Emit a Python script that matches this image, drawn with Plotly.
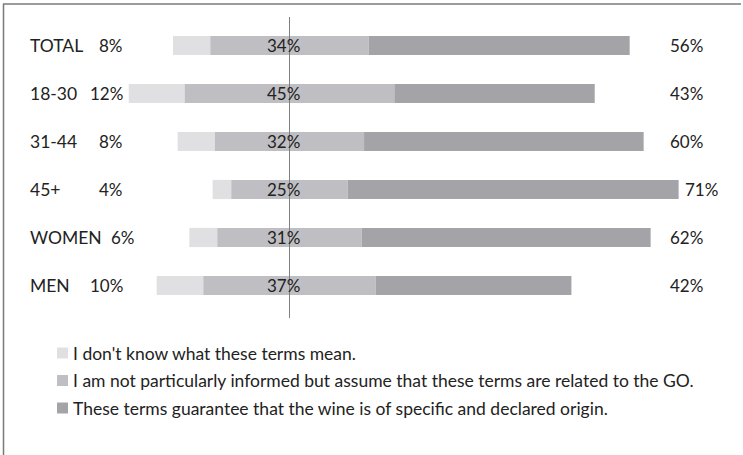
import plotly.graph_objects as go

# Survey answers by group (percent of respondents)
groups = ["TOTAL", "18-30", "31-44", "45+", "WOMEN", "MEN"]
dont_know = [8, 12, 8, 4, 6, 10]
assume_go = [34, 45, 32, 25, 31, 37]
guarantee = [56, 43, 60, 71, 62, 42]

legend_labels = [
    "I don't know what these terms mean.",
    "I am not particularly informed but assume that these terms are related to the GO.",
    "These terms guarantee that the wine is of specific and declared origin.",
]
colors = ["#e0e0e2", "#bfbfc3", "#a4a4a8"]

FONT = "Lato"
TXT = "#222222"

W, H = 743, 455
# pixel geometry of the diverging axis
CX, PX_PER = 289.5, 4.66
ROW0, ROW_STEP = 45.5, 48.0


def xd(px):
    return (px - CX) / PX_PER


def yd(py):
    return (py - ROW0) / ROW_STEP


rows = list(range(len(groups)))
half = [v / 2 for v in assume_go]

fig = go.Figure()
# light segment: left of the centred middle segment
fig.add_trace(go.Bar(
    y=rows, x=dont_know, base=[-h - d for h, d in zip(half, dont_know)],
    orientation="h", marker=dict(color=colors[0], line=dict(width=0)),
    width=0.4, showlegend=False, hoverinfo="skip"))
# middle segment centred on zero
fig.add_trace(go.Bar(
    y=rows, x=assume_go, base=[-h for h in half],
    orientation="h", marker=dict(color=colors[1], line=dict(width=0)),
    width=0.4, showlegend=False, hoverinfo="skip"))
# dark segment to the right
fig.add_trace(go.Bar(
    y=rows, x=guarantee, base=half,
    orientation="h", marker=dict(color=colors[2], line=dict(width=0)),
    width=0.4, showlegend=False, hoverinfo="skip"))

annotations = []
left_nudge = {"WOMEN": 12}
for i, g in enumerate(groups):
    annotations.append(dict(
        x=xd(28), y=i, xref="x", yref="y", text=g, showarrow=False,
        xanchor="left", yanchor="middle",
        font=dict(family=FONT, size=17.5, color=TXT)))
    annotations.append(dict(
        x=xd(125 + left_nudge.get(g, 0)), y=i, xref="x", yref="y",
        text=f"{dont_know[i]}%", showarrow=False,
        xanchor="right", yanchor="middle",
        font=dict(family=FONT, size=17, color=TXT)))
    annotations.append(dict(
        x=0, y=i, xref="x", yref="y", xshift=-6,
        text=f"{assume_go[i]}%", showarrow=False,
        xanchor="center", yanchor="middle",
        font=dict(family=FONT, size=17, color=TXT)))
    end = half[i] + guarantee[i]
    annotations.append(dict(
        x=max(end + xd(CX + 4), xd(668)), y=i, xref="x", yref="y",
        text=f"{guarantee[i]}%", showarrow=False,
        xanchor="left", yanchor="middle",
        font=dict(family=FONT, size=17, color=TXT)))

shapes = [
    # centre line
    dict(type="line", xref="x", yref="y", x0=0, x1=0,
         y0=yd(17), y1=yd(318), line=dict(color="#808080", width=1)),
    # frame: top and left edges
    dict(type="line", xref="paper", yref="paper", x0=3 / W, x1=741 / W,
         y0=1 - 4 / H, y1=1 - 4 / H, line=dict(color="#7a7a7a", width=1.5)),
    dict(type="line", xref="paper", yref="paper", x0=3.5 / W, x1=3.5 / W,
         y0=0, y1=1 - 4 / H, line=dict(color="#7a7a7a", width=1.5)),
]

legend_y = [353, 380.5, 408]
for lbl, col, py in zip(legend_labels, colors, legend_y):
    shapes.append(dict(
        type="rect", xref="paper", yref="paper",
        x0=57 / W, x1=68 / W, y0=1 - (py - 5.5) / H, y1=1 - (py + 5.5) / H,
        fillcolor=col, line=dict(width=0)))
    annotations.append(dict(
        x=71 / W, y=1 - py / H, xref="paper", yref="paper", text=lbl,
        showarrow=False, xanchor="left", yanchor="middle",
        font=dict(family=FONT, size=17.5, color=TXT)))

fig.update_layout(
    width=W, height=H,
    margin=dict(l=0, r=0, t=0, b=0),
    paper_bgcolor="white", plot_bgcolor="white",
    barmode="overlay",
    xaxis=dict(range=[xd(0), xd(W)], visible=False, fixedrange=True),
    yaxis=dict(range=[yd(H), yd(0)], visible=False, fixedrange=True),
    annotations=annotations, shapes=shapes,
)

fig.write_html("out.html")
